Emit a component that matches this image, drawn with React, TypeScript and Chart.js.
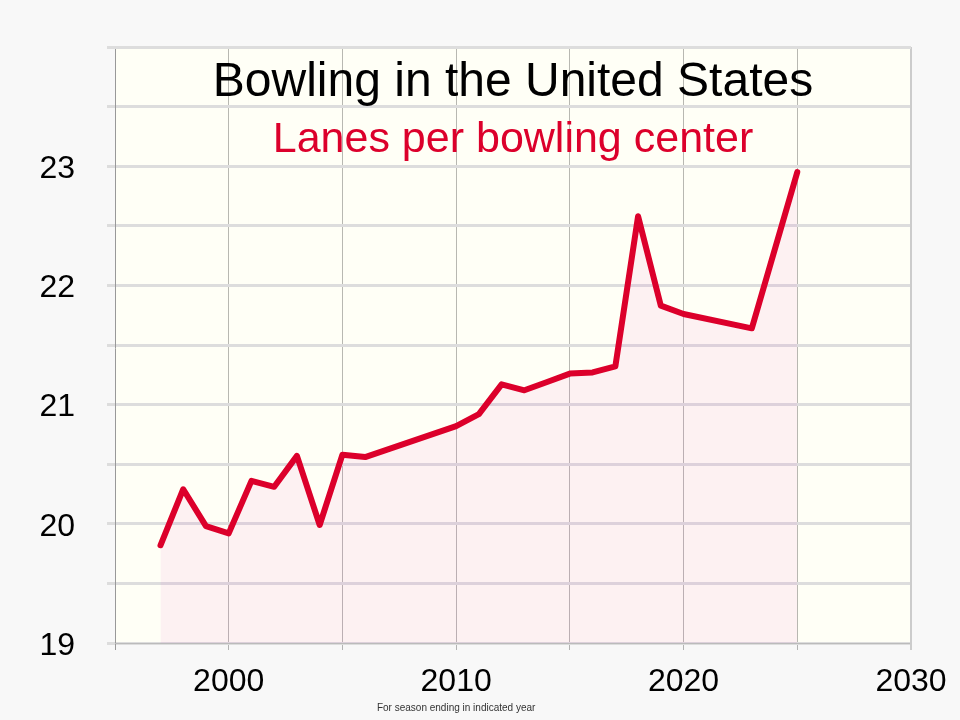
import React, { useEffect, useRef } from "react";
import { Chart, registerables } from "chart.js";

Chart.register(...registerables);

// Season-ending years and average lanes per bowling center
const years = [1997, 1998, 1999, 2000, 2001, 2002, 2003, 2004, 2005, 2006, 2010, 2011, 2012, 2013, 2014, 2015, 2016, 2017, 2018, 2019, 2020, 2023, 2025];
const lanesPerCenter = [19.82, 20.29, 19.98, 19.92, 20.36, 20.31, 20.57, 19.99, 20.58, 20.56, 20.82, 20.92, 21.17, 21.12, 21.19, 21.26, 21.27, 21.32, 22.58, 21.83, 21.76, 21.64, 22.95];

const xLabelYears = [2000, 2010, 2020, 2030];
const yLabelValues = [19, 20, 21, 22, 23];

const titleText = "Bowling in the United States";
const subtitleText = "Lanes per bowling center";
const captionText = "For season ending in indicated year";

const RED = "#dc002b";
const FONT = "'Liberation Sans', Arial, sans-serif";

const decorPlugin = {
  id: "decor",
  beforeDraw(chart: any) {
    const { ctx, chartArea: a } = chart;
    ctx.save();
    ctx.fillStyle = "#f8f8f8";
    ctx.fillRect(0, 0, chart.width, chart.height);
    ctx.fillStyle = "#fffff6";
    ctx.fillRect(a.left, a.top, a.right - a.left, a.bottom - a.top);
    ctx.restore();
  },
  afterDraw(chart: any) {
    const { ctx, chartArea: a } = chart;
    const cx = (a.left + a.right) / 2;
    ctx.save();
    // plot frame
    ctx.strokeStyle = "#999";
    ctx.lineWidth = 1;
    ctx.beginPath();
    ctx.moveTo(a.left + 0.5, a.top);
    ctx.lineTo(a.left + 0.5, a.bottom + 7);
    ctx.stroke();
    ctx.strokeStyle = "#bbb";
    ctx.beginPath();
    ctx.moveTo(a.left, a.bottom + 0.5);
    ctx.lineTo(a.right, a.bottom + 0.5);
    ctx.stroke();
    ctx.strokeStyle = "#ccc";
    ctx.lineWidth = 2;
    ctx.beginPath();
    ctx.moveTo(a.right, a.top);
    ctx.lineTo(a.right, a.bottom + 7);
    ctx.stroke();
    ctx.strokeStyle = "#ddd";
    ctx.beginPath();
    ctx.moveTo(a.left, a.top + 1);
    ctx.lineTo(a.right, a.top + 1);
    ctx.stroke();

    // titles
    ctx.textAlign = "center";
    ctx.textBaseline = "alphabetic";
    ctx.fillStyle = "#000";
    ctx.font = `48px ${FONT}`;
    ctx.fillText(titleText, cx, 96);
    ctx.fillStyle = RED;
    ctx.font = `43px ${FONT}`;
    ctx.fillText(subtitleText, cx, 152);

    // axis caption
    ctx.fillStyle = "#333";
    ctx.font = `10px ${FONT}`;
    ctx.fillText(captionText, chart.scales.x.getPixelForValue(2010), 711);
    ctx.restore();
  },
};

export default function App() {
  const canvasRef = useRef<HTMLCanvasElement | null>(null);

  useEffect(() => {
    const canvas = canvasRef.current;
    if (!canvas) return;
    const chart = new Chart(canvas, {
      type: "line",
      data: {
        datasets: [
          {
            data: years.map((y, i) => ({ x: y, y: lanesPerCenter[i] })),
            borderColor: RED,
            borderWidth: 6,
            borderJoinStyle: "round",
            borderCapStyle: "round",
            backgroundColor: "rgba(235, 80, 200, 0.08)",
            fill: "start",
            pointRadius: 0,
            tension: 0,
          },
        ],
      },
      options: {
        responsive: false,
        animation: false,
        events: [],
        layout: { padding: { top: 47, right: 49, left: 0, bottom: 0 } },
        plugins: {
          legend: { display: false },
          tooltip: { enabled: false },
          title: { display: false },
        },
        scales: {
          x: {
            type: "linear",
            min: 1995,
            max: 2030,
            afterFit: (s: any) => {
              s.height = 77;
            },
            border: { display: false },
            grid: {
              color: (c: any) => {
                const v = c.tick?.value;
                if (v === 1995 || v === 2030) return "rgba(0,0,0,0)";
                return "rgba(0,0,0,0.28)";
              },
              lineWidth: 1,
              tickLength: 7,
            },
            ticks: {
              stepSize: 5,
              autoSkip: false,
              maxRotation: 0,
              padding: 13,
              color: "#000",
              font: { family: FONT, size: 32 },
              callback: (v: any) => (xLabelYears.includes(Number(v)) ? String(v) : ""),
            },
          },
          y: {
            min: 19,
            max: 24,
            afterFit: (s: any) => {
              s.width = 115;
            },
            border: { display: false },
            grid: {
              color: "#dddddd",
              lineWidth: 3,
              tickLength: 8,
            },
            ticks: {
              stepSize: 0.5,
              autoSkip: false,
              padding: 32,
              labelOffset: 3,
              color: "#000",
              font: { family: FONT, size: 32, lineHeight: 0.5 },
              callback: (v: any) => (yLabelValues.includes(Number(v)) ? String(v) : ""),
            },
          },
        },
      },
      plugins: [decorPlugin],
    } as any);
    return () => chart.destroy();
  }, []);

  return (
    <div style={{ position: "fixed", left: 0, top: 0, width: 960, height: 720, background: "#f8f8f8" }}>
      <canvas ref={canvasRef} width={960} height={720} style={{ display: "block" }} />
    </div>
  );
}
